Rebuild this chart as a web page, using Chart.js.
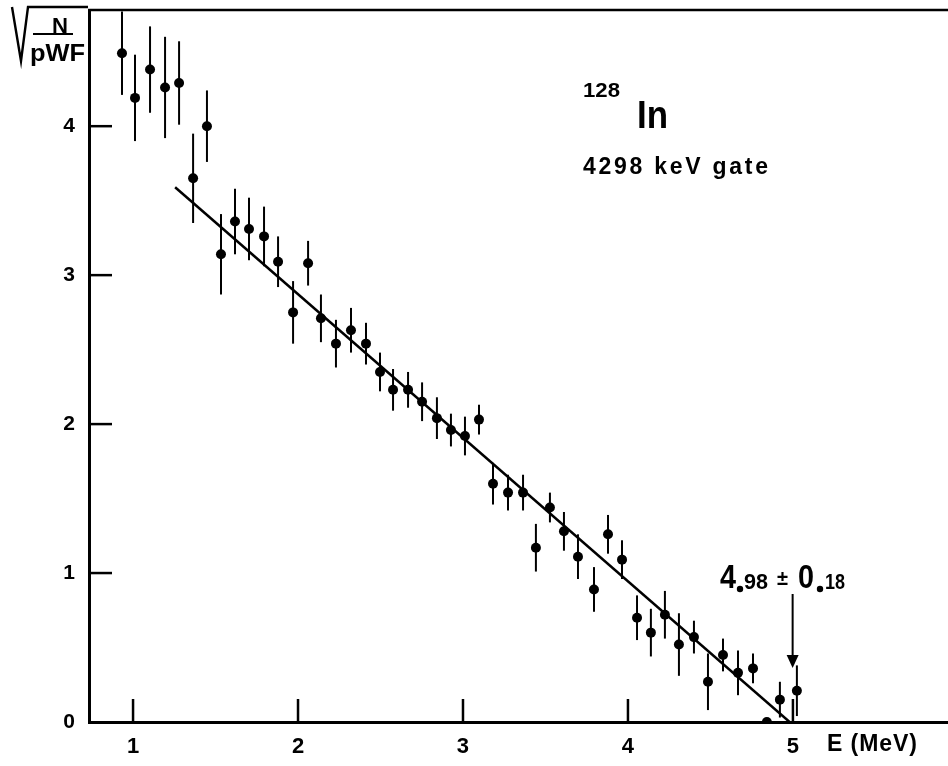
<!DOCTYPE html>
<html>
<head>
<meta charset="utf-8">
<script src="https://cdn.jsdelivr.net/npm/chart.js@4"></script>
<style>
html,body{margin:0;padding:0;background:#fff;}
#wrap{width:948px;height:766px;}
</style>
</head>
<body>
<div id="wrap"><canvas id="c" width="948" height="766"></canvas></div>
<script>
// Energies (MeV) of the measured points
const energies = [0.933,1.012,1.103,1.194,1.279,1.364,1.448,1.533,1.618,1.703,1.794,1.879,1.970,2.061,2.139,2.230,2.321,2.412,2.497,2.576,2.667,2.752,2.842,2.927,3.012,3.097,3.182,3.273,3.364,3.442,3.527,3.612,3.697,3.794,3.879,3.964,4.055,4.139,4.224,4.309,4.400,4.485,4.576,4.667,4.758,4.842,4.921,5.024];
// sqrt(N/pWF) values
const values = [4.49,4.19,4.38,4.26,4.29,3.65,4.00,3.14,3.36,3.31,3.26,3.09,2.75,3.08,2.71,2.54,2.63,2.54,2.35,2.23,2.23,2.15,2.04,1.96,1.92,2.03,1.60,1.54,1.54,1.17,1.44,1.28,1.11,0.89,1.26,1.09,0.70,0.60,0.72,0.52,0.57,0.27,0.45,0.33,0.36,0.00,0.15,0.21];
// error bar half-lengths
const errors = [0.28,0.29,0.29,0.34,0.28,0.30,0.24,0.27,0.22,0.21,0.20,0.17,0.21,0.15,0.16,0.16,0.15,0.14,0.13,0.14,0.12,0.13,0.14,0.11,0.13,0.10,0.14,0.12,0.12,0.16,0.10,0.13,0.15,0.15,0.13,0.13,0.15,0.16,0.16,0.21,0.11,0.19,0.11,0.15,0.10,0.00,0.12,0.17];
// fitted straight line (endpoint 4.98 MeV)
const fitE = [1.255, 4.98];
const fitY = [3.59, 0];
const xTickValues = [1,2,3,4,5];
const yTickValues = [0,1,2,3,4];
const endpointE = 4.98;

const FONT = "'Liberation Sans',Arial,sans-serif";

// draw text into a given width: letter-spaced if wider, condensed if narrower
function fitText(ctx, txt, x, y, w) {
  const chars = [...txt];
  const widths = chars.map(c => ctx.measureText(c).width);
  const total = widths.reduce((a,b)=>a+b,0);
  if (total >= w || chars.length < 2) {
    ctx.save();
    ctx.translate(x, y);
    ctx.scale(w / total, 1);
    ctx.fillText(txt, 0, 0);
    ctx.restore();
    return;
  }
  const gap = (w - total) / (chars.length - 1);
  let cx = x;
  chars.forEach((c,i) => { ctx.fillText(c, cx, y); cx += widths[i] + gap; });
}
function condensed(ctx, txt, x, y, w) {
  const m = ctx.measureText(txt).width;
  ctx.save(); ctx.translate(x, y); ctx.scale(w / m, 1); ctx.fillText(txt, 0, 0); ctx.restore();
}

const decor = {
  id: 'decor',
  beforeDatasetsDraw(chart) {
    const ctx = chart.ctx, xs = chart.scales.x, ys = chart.scales.y;
    ctx.save();
    ctx.strokeStyle = '#000';
    ctx.lineWidth = 2;
    energies.forEach((e,i) => {
      if (!errors[i]) return;
      const px = xs.getPixelForValue(e);
      ctx.beginPath();
      ctx.moveTo(px, ys.getPixelForValue(values[i] - errors[i]));
      ctx.lineTo(px, ys.getPixelForValue(values[i] + errors[i]));
      ctx.stroke();
    });
    ctx.restore();
  },
  afterDraw(chart) {
    const ctx = chart.ctx, xs = chart.scales.x, ys = chart.scales.y, ca = chart.chartArea;
    ctx.save();
    ctx.strokeStyle = '#000';
    ctx.fillStyle = '#000';
    ctx.textAlign = 'left'; ctx.textBaseline = 'alphabetic';
    // top frame line
    ctx.lineWidth = 2.5;
    ctx.beginPath(); ctx.moveTo(ca.left - 1, ca.top); ctx.lineTo(ca.right, ca.top); ctx.stroke();
    // inward ticks
    yTickValues.forEach(v => {
      if (v === 0) return;
      const py = ys.getPixelForValue(v);
      ctx.beginPath(); ctx.moveTo(ca.left, py); ctx.lineTo(ca.left + 23, py); ctx.stroke();
    });
    xTickValues.forEach(v => {
      const px = xs.getPixelForValue(v);
      ctx.beginPath(); ctx.moveTo(px, ca.bottom); ctx.lineTo(px, ca.bottom - 23); ctx.stroke();
    });
    // y title: sqrt(N / pWF)
    ctx.lineWidth = 2.4;
    ctx.beginPath();
    ctx.moveTo(12, 7); ctx.lineTo(21, 61); ctx.lineTo(28, 7); ctx.lineTo(88, 7);
    ctx.stroke();
    ctx.lineWidth = 2;
    ctx.beginPath(); ctx.moveTo(33, 34); ctx.lineTo(73, 34); ctx.stroke();
    ctx.font = 'bold 22px ' + FONT;
    condensed(ctx, 'N', 52, 33, 16);
    ctx.font = 'bold 23px ' + FONT;
    condensed(ctx, 'pWF', 30, 61, 55);
    // nucleus label
    ctx.font = 'bold 21px ' + FONT;
    condensed(ctx, '128', 583, 97, 37);
    ctx.font = 'bold 39px ' + FONT;
    condensed(ctx, 'In', 637, 128, 31);
    ctx.font = 'bold 23px ' + FONT;
    fitText(ctx, '4298 keV gate', 583, 174, 185);
    // endpoint value
    ctx.font = 'bold 33px ' + FONT;
    condensed(ctx, '4', 720, 588, 16);
    condensed(ctx, '0', 798, 588, 16);
    ctx.beginPath(); ctx.arc(740, 589, 3.2, 0, Math.PI*2); ctx.fill();
    ctx.beginPath(); ctx.arc(820, 589, 3.2, 0, Math.PI*2); ctx.fill();
    ctx.font = 'bold 22px ' + FONT;
    condensed(ctx, '98', 744, 589, 24);
    condensed(ctx, '18', 825, 589, 20);
    ctx.font = 'bold 20px ' + FONT;
    condensed(ctx, '\u00B1', 777, 585, 11);
    // arrow
    const ax = xs.getPixelForValue(endpointE) + 3;
    ctx.lineWidth = 2;
    ctx.beginPath(); ctx.moveTo(ax, 594); ctx.lineTo(ax, 657); ctx.stroke();
    ctx.beginPath(); ctx.moveTo(ax - 6, 655); ctx.lineTo(ax + 6, 655); ctx.lineTo(ax, 668); ctx.closePath(); ctx.fill();
    // axis unit
    ctx.font = 'bold 23px ' + FONT;
    fitText(ctx, 'E (MeV)', 827, 751, 90);
    ctx.restore();
  }
};

function zeroPad(s) { s.paddingTop = 0; s.paddingBottom = 0; s.paddingLeft = 0; s.paddingRight = 0; }

new Chart(document.getElementById('c'), {
  data: {
    datasets: [
      {
        type: 'line',
        data: fitE.map((e,i) => ({x: e, y: fitY[i]})),
        borderColor: '#000',
        borderWidth: 2.5,
        pointRadius: 0,
        fill: false,
        tension: 0
      },
      {
        type: 'scatter',
        data: energies.map((e,i) => ({x: e, y: values[i]})),
        backgroundColor: '#000',
        borderColor: '#000',
        borderWidth: 0,
        pointRadius: 5,
        clip: 0
      }
    ]
  },
  options: {
    responsive: false,
    animation: false,
    devicePixelRatio: 1,
    layout: { autoPadding: false, padding: { top: 10, right: 0, left: 0, bottom: 0 } },
    plugins: { legend: { display: false }, tooltip: { enabled: false } },
    scales: {
      x: {
        type: 'linear',
        min: 0.733,
        max: 5.94,
        afterBuildTicks: s => { s.ticks = xTickValues.map(v => ({value: v})); },
        afterFit: s => { s.height = 44; zeroPad(s); },
        grid: { display: false, drawTicks: false },
        border: { display: true, color: '#000', width: 3 },
        ticks: { color: '#000', padding: 12, maxRotation: 0, font: { family: FONT, weight: 'bold', size: 22 } }
      },
      y: {
        type: 'linear',
        min: 0,
        max: 4.78,
        afterBuildTicks: s => { s.ticks = yTickValues.map(v => ({value: v})); },
        afterFit: s => { s.width = 89; zeroPad(s); },
        grid: { display: false, drawTicks: false },
        border: { display: true, color: '#000', width: 3 },
        ticks: { color: '#000', padding: 14, font: { family: FONT, weight: 'bold', size: 21 } }
      }
    }
  },
  plugins: [decor]
});
</script>
</body>
</html>
